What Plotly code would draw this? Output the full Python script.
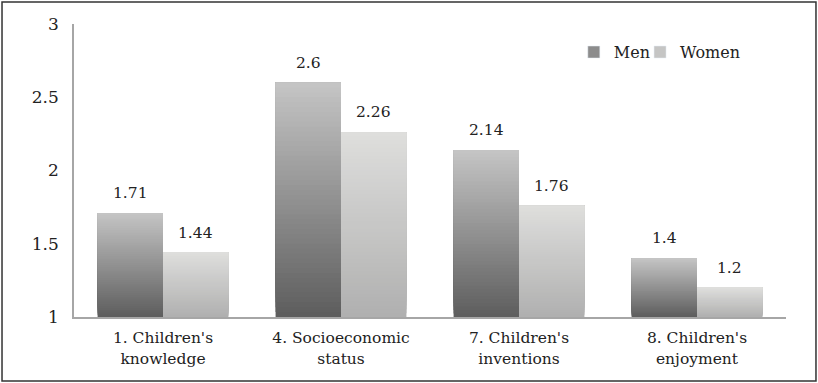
import plotly.graph_objects as go

categories = ["1. Children's<br>knowledge", "4. Socioeconomic<br>status",
              "7. Children's<br>inventions", "8. Children's<br>enjoyment"]
men = [1.71, 2.6, 2.14, 1.4]
women = [1.44, 2.26, 1.76, 1.2]
y_ticks = [1, 1.5, 2, 2.5, 3]
y_tick_labels = ["1", "1.5", "2", "2.5", "3"]
base_value = 1

FONT = "DejaVu Serif"
N = 48
BARGAP = 0.265
PLOT_W = 712

def lerp(c0, c1, t):
    return "rgb(%d,%d,%d)" % tuple(round(a + (b - a) * t) for a, b in zip(c0, c1))

series = [
    ("Men", men, (94, 94, 94), (196, 196, 196), "men", "legend", 0.702, -1),
    ("Women", women, (176, 176, 176), (222, 222, 220), "women", "legend2", 0.795, 1),
]

# half the width of one bar in pixels (group of 2 bars per category)
cat_px = PLOT_W / len(categories)
half_bar_px = cat_px * (1 - BARGAP) / 4

fig = go.Figure()
annotations = []
for name, vals, c0, c1, grp, leg, legx, side in series:
    for k in range(N):
        t = k / (N - 1)
        fig.add_trace(go.Bar(
            x=categories,
            y=[(v - base_value) * (1 - k / N) for v in vals],
            base=[base_value + (v - base_value) * k / N for v in vals],
            marker=dict(color=lerp(c0, c1, t), line=dict(width=0)),
            offsetgroup=grp, showlegend=False, hoverinfo="skip",
        ))
    fig.add_trace(go.Bar(
        x=[None], y=[None], name=name,
        marker=dict(color=lerp(c0, c1, 0.45)),
        offsetgroup=grp, showlegend=True, legend=leg,
    ))
    for c, v in zip(categories, vals):
        annotations.append(dict(
            x=c, y=v, xref="x", yref="y", text="%g" % v, showarrow=False,
            xshift=side * half_bar_px, yshift=20, yanchor="middle",
            font=dict(family=FONT, size=15.5, color="#222"),
        ))

legend_style = dict(orientation="h", y=0.904, xanchor="left", yanchor="middle",
                    font=dict(family=FONT, size=16, color="#222"),
                    itemwidth=30, bgcolor="rgba(0,0,0,0)")

fig.update_layout(
    width=818, height=383,
    margin=dict(l=74, r=32, t=24, b=66),
    paper_bgcolor="white", plot_bgcolor="white",
    barmode="group", bargap=BARGAP, bargroupgap=0,
    font=dict(family=FONT, size=15, color="#222"),
    legend=dict(x=0.702, **legend_style),
    legend2=dict(x=0.795, **legend_style),
    showlegend=True,
    annotations=annotations,
    shapes=[dict(type="rect", xref="paper", yref="paper",
                 x0=-0.1011, x1=1.0421, y0=-0.2184, y1=1.0751,
                 line=dict(color="#333", width=1.5), layer="below")],
)
fig.update_xaxes(showline=True, linecolor="#a6a6a6", linewidth=1.5,
                 ticks="", showgrid=False, ticklabelstandoff=6,
                 tickfont=dict(family=FONT, size=15.5, color="#222"))
fig.update_yaxes(range=[1, 3], tickvals=y_ticks, ticktext=y_tick_labels,
                 showline=True, linecolor="#a6a6a6", linewidth=1.5,
                 ticks="", showgrid=False, zeroline=False,
                 ticklabelstandoff=10,
                 tickfont=dict(family=FONT, size=17, color="#222"))

fig.write_html("out.html")
